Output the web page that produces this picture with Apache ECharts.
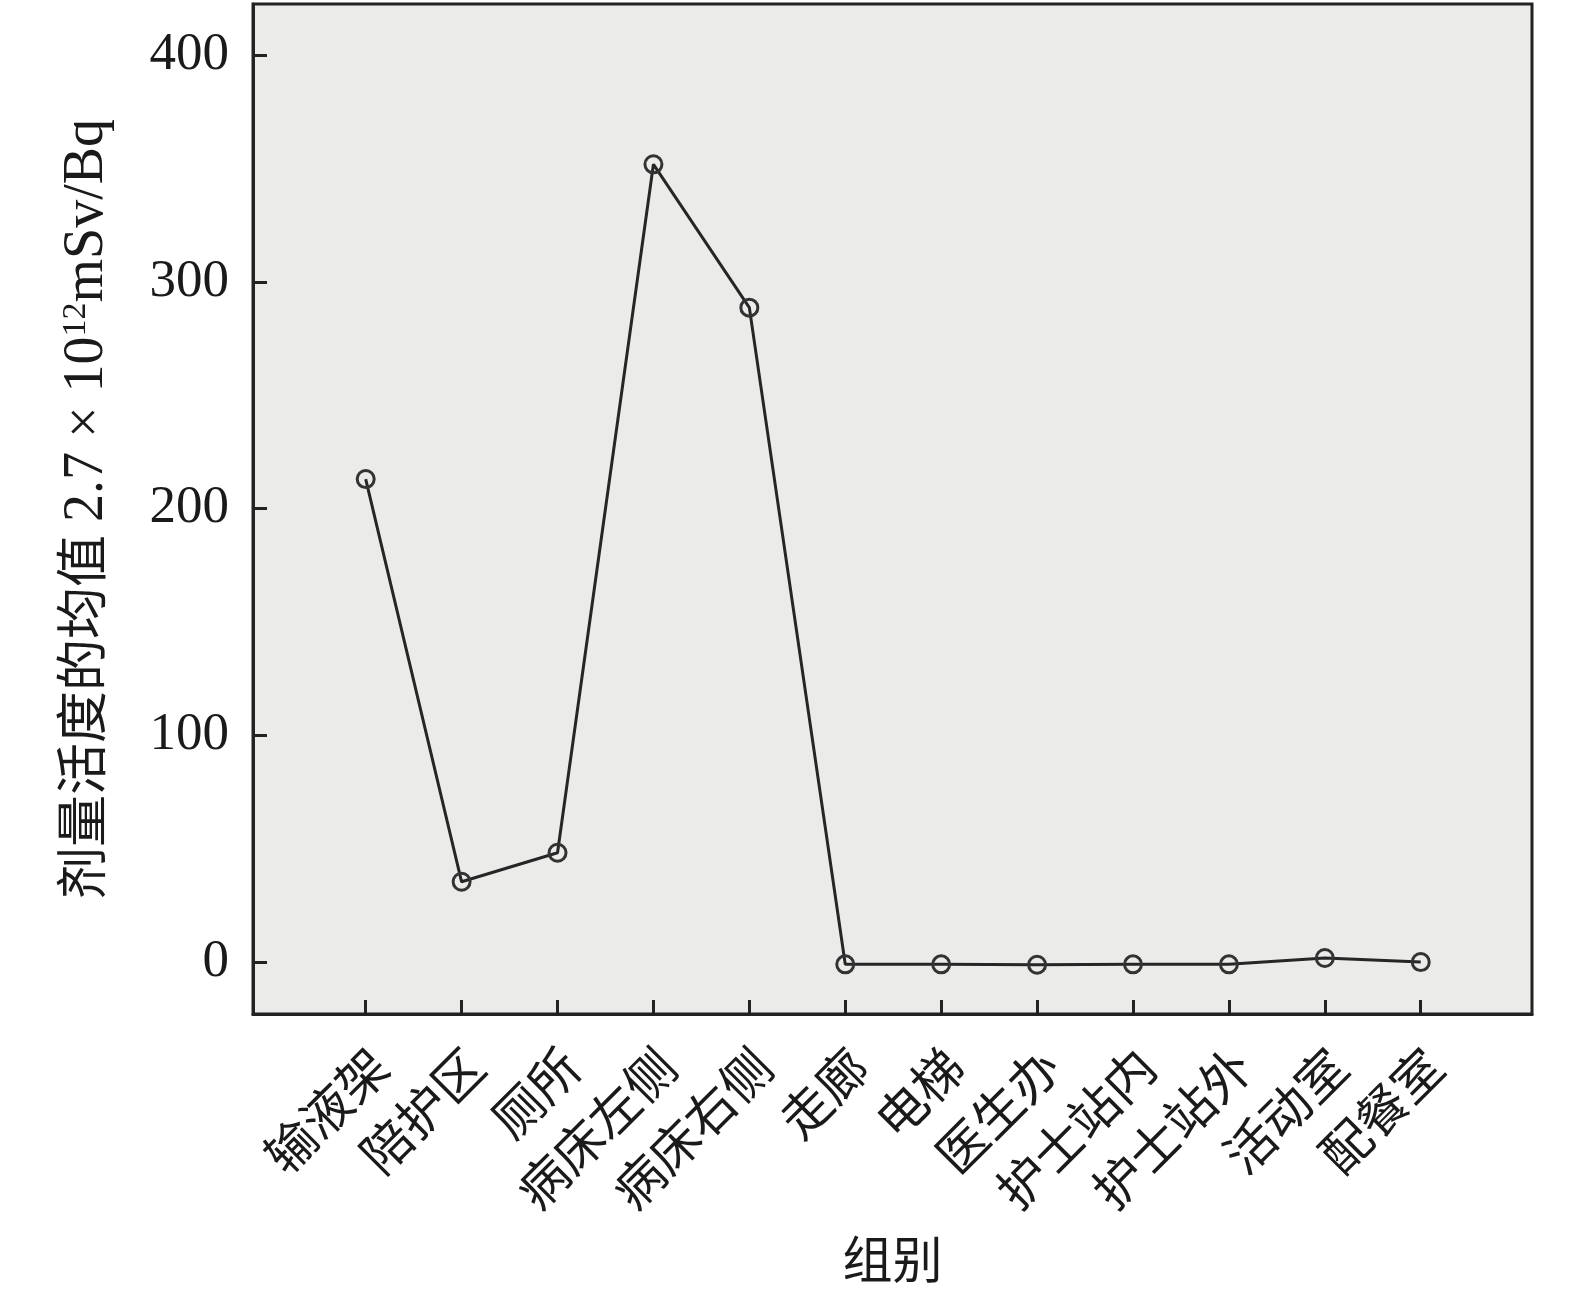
<!DOCTYPE html>
<html>
<head>
<meta charset="utf-8">
<script src="https://cdn.jsdelivr.net/npm/echarts@6/dist/echarts.min.js"></script>
<style>
html, body { margin: 0; padding: 0; background: #fff; }
#chartLine { width: 1575px; height: 1307px; }
</style>
</head>
<body>
<div id="chartLine"></div>
<script>
// 组别
var categories = ['输液架', '陪护区', '厕所', '病床左侧', '病床右侧', '走廊', '电梯', '医生办', '护士站内', '护士站外', '活动室', '配餐室'];
// 剂量活度的均值
var meanValues = [213, 35.4, 48.2, 351.8, 288.6, -1.0, -1.0, -1.2, -1.0, -1.0, 1.8, 0];
var yTicks = [0, 100, 200, 300, 400];

var serif = '"Liberation Serif", "Noto Sans CJK SC", serif';
var catIndex = categories.map(function (c, i) { return i; });

var myChart = echarts.init(document.getElementById('chartLine'));
var option = {
    backgroundColor: '#fff',
    grid: {
        left: 253,
        right: 43,
        top: 4,
        bottom: 293,
        show: true,
        backgroundColor: '#ebebea',
        borderColor: '#222',
        borderWidth: 3
    },
    xAxis: {
        type: 'value',
        min: -1.175,
        max: 12.16,
        name: '组别',
        nameLocation: 'middle',
        nameGap: 226,
        nameTextStyle: { fontFamily: serif, fontSize: 50, color: '#1a1a1a' },
        axisLine: { show: true, onZero: false, lineStyle: { color: '#222', width: 3 } },
        splitLine: { show: false },
        axisTick: {
            show: true,
            inside: true,
            length: 14,
            customValues: catIndex,
            lineStyle: { color: '#222', width: 3 }
        },
        axisLabel: {
            customValues: catIndex,
            formatter: function (v) { return categories[Math.round(v)]; },
            rotate: 45,
            verticalAlign: 'top',
            margin: 30,
            fontFamily: serif,
            fontSize: 50,
            color: '#1a1a1a'
        }
    },
    yAxis: {
        type: 'value',
        min: -22.9,
        max: 422.5,
        name: '剂量活度的均值 {lat|2.7 × 10}{sup|12}{lat|mSv/Bq}',
        nameLocation: 'middle',
        nameGap: 138,
        nameTextStyle: {
            fontFamily: serif,
            fontSize: 52,
            color: '#1a1a1a',
            rich: {
                lat: { fontFamily: serif, fontSize: 56, color: '#1a1a1a' },
                sup: { fontFamily: serif, fontSize: 34, color: '#1a1a1a', verticalAlign: 'top' }
            }
        },
        axisLine: { show: true, onZero: false, lineStyle: { color: '#222', width: 3 } },
        splitLine: { show: false },
        axisTick: {
            show: true,
            inside: true,
            length: 14,
            customValues: yTicks,
            lineStyle: { color: '#222', width: 3 }
        },
        axisLabel: {
            customValues: yTicks,
            margin: 24,
            fontFamily: serif,
            fontSize: 53,
            color: '#1a1a1a'
        }
    },
    series: [{
        type: 'line',
        data: meanValues.map(function (v, i) { return [i, v]; }),
        symbol: 'circle',
        symbolSize: 17,
        showAllSymbol: true,
        lineStyle: { color: '#262626', width: 3 },
        itemStyle: { color: 'rgba(0,0,0,0)', borderColor: '#333', borderWidth: 3 },
        emphasis: { disabled: true },
        animation: false
    }]
};
myChart.setOption(option);
</script>
</body>
</html>
